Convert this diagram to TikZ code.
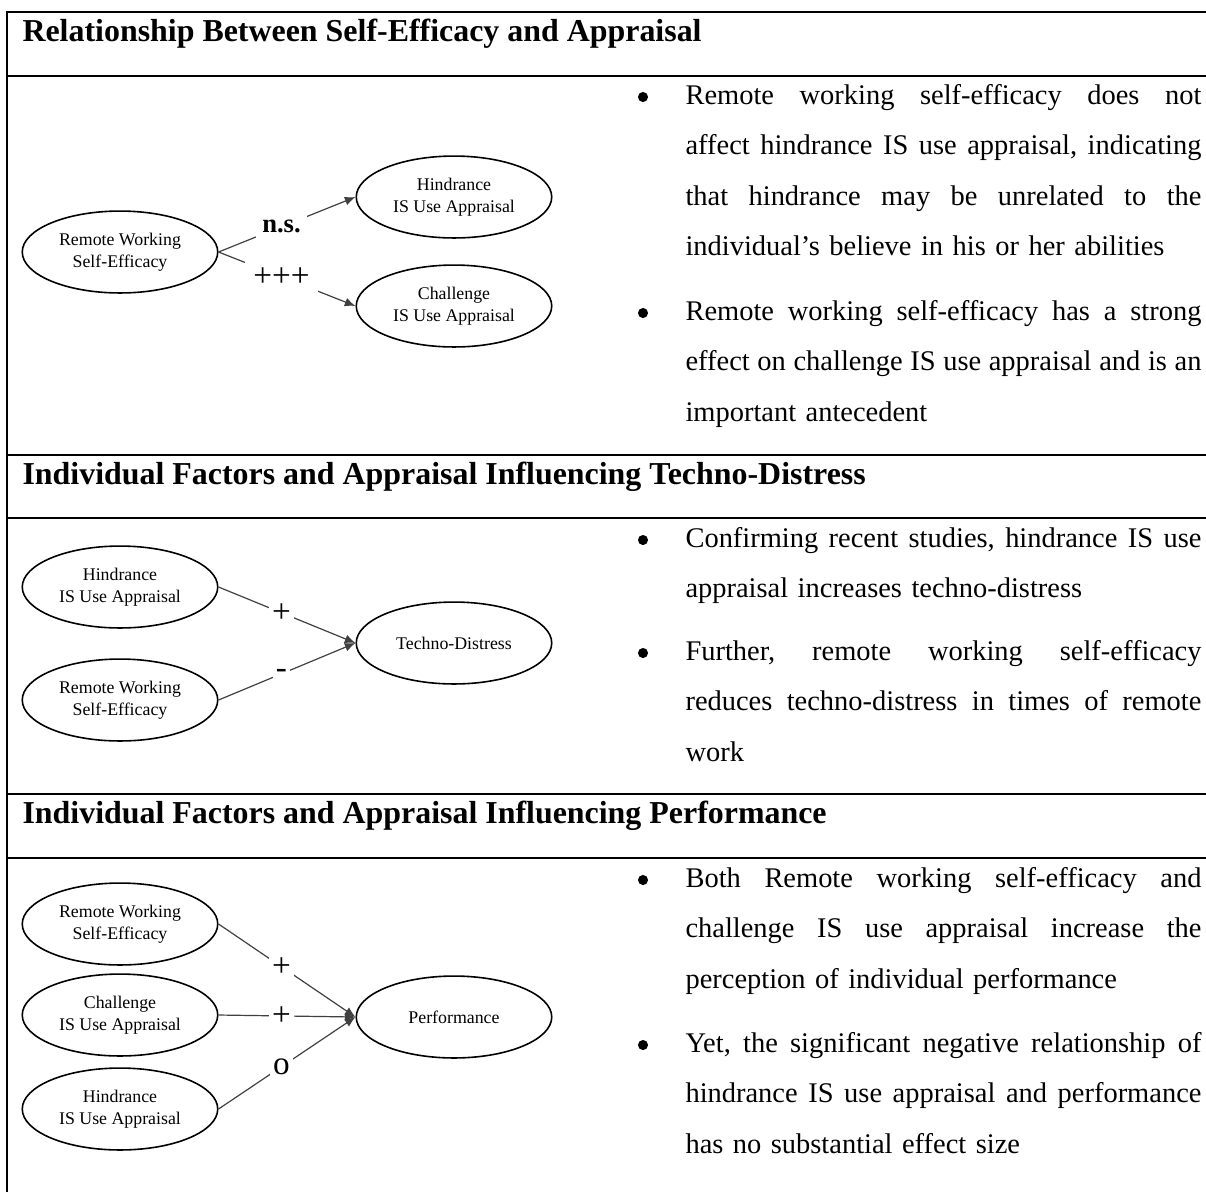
\documentclass[tikz,border=0pt]{standalone}
\usepackage{fontspec}
\setmainfont{Liberation Serif}
\usepackage{tikz}
\usetikzlibrary{arrows.meta, shapes.geometric}

\def\jline#1{\leavevmode\hbox to 194pt{\jloop#1 \jend}}
\def\jloop#1 #2\jend{#1\ifx\relax#2\relax\else\hfill\jloop#2\jend\fi}

\begin{document}
\begin{tikzpicture}[x=0.376pt, y=-0.376pt,
  construct/.style={draw, ellipse, line width=0.6pt, minimum width=73.5pt, minimum height=30.8pt,
    inner sep=0pt, align=center, font=\fontsize{6.7}{8.2}\selectfont},
  link/.style={draw=black!75, line width=0.45pt, -{Latex[length=4pt,width=3.3pt]}},
  effect/.style={fill=white, inner sep=1.2pt, pos=0.46, font=\fontsize{12.5}{14}\selectfont},
  hdr/.style={anchor=base west, inner sep=0pt, font=\fontsize{12}{14}\selectfont\bfseries},
  itemtxt/.style={anchor=base west, inner sep=0pt, text width=194pt, align=left,
    font=\fontsize{10.7}{19}\selectfont},
  itemdot/.style={circle, fill=black, inner sep=0pt, minimum size=3.8pt},
  tline/.style={line width=1.1pt}]
  \useasboundingbox (0,0) rectangle (1206,1192);

  \draw[tline] (7,1192) -- (7,12) -- (1206,12);
  \draw[tline] (7,76) -- (1206,76);
  \draw[tline] (7,455) -- (1206,455);
  \draw[tline] (7,518) -- (1206,518);
  \draw[tline] (7,794) -- (1206,794);
  \draw[tline] (7,858) -- (1206,858);

  \node[hdr] (h1) at (22,41) {Relationship Between Self-Efficacy and Appraisal};
  \node[hdr] (h2) at (22,484) {Individual Factors and Appraisal Influencing Techno-Distress};
  \node[hdr] (h3) at (22,823) {Individual Factors and Appraisal Influencing Performance};

  % self-efficacy and appraisal
  \node[construct] (rw1) at (120,252) {Remote Working\\Self-Efficacy};
  \node[construct] (hi1) at (454,197) {Hindrance\\IS Use Appraisal};
  \node[construct] (ch1) at (454,306) {Challenge\\IS Use Appraisal};
  \draw[link] (rw1.east) -- node[effect, inner sep=2.5pt, font=\fontsize{10}{12}\selectfont\bfseries]{n.s.} (hi1.west);
  \draw[link] (rw1.east) -- node[effect, inner sep=3pt]{+++} (ch1.west);

  % techno-distress
  \node[construct] (hi2) at (120,587) {Hindrance\\IS Use Appraisal};
  \node[construct] (rw2) at (120,700) {Remote Working\\Self-Efficacy};
  \node[construct] (td2) at (454,643) {Techno-Distress};
  \draw[link] (hi2.east) -- node[effect]{+} (td2.west);
  \draw[link] (rw2.east) -- node[effect]{-} (td2.west);

  % performance
  \node[construct] (rw3) at (120,924) {Remote Working\\Self-Efficacy};
  \node[construct] (ch3) at (120,1015) {Challenge\\IS Use Appraisal};
  \node[construct] (hi3) at (120,1109) {Hindrance\\IS Use Appraisal};
  \node[construct] (pf3) at (454,1017) {Performance};
  \draw[link] (rw3.east) -- node[effect]{+} (pf3.west);
  \draw[link] (ch3.east) -- node[effect]{+} (pf3.west);
  \draw[link] (hi3.east) -- node[effect]{o} (pf3.west);

  \node[itemdot] (d11) at (643,97) {};
  \node[itemtxt] (t11) at (685,104) {\jline{Remote working self-efficacy does not}\\
    \jline{affect hindrance IS use appraisal, indicating}\\
    \jline{that hindrance may be unrelated to the}\\
    individual's believe in his or her abilities};
  \node[itemdot] (d12) at (643,313) {};
  \node[itemtxt] (t12) at (685,320) {\jline{Remote working self-efficacy has a strong}\\
    \jline{effect on challenge IS use appraisal and is an}\\
    important antecedent};

  \node[itemdot] (d21) at (643,540) {};
  \node[itemtxt] (t21) at (685,547) {\jline{Confirming recent studies, hindrance IS use}\\
    appraisal increases techno-distress};
  \node[itemdot] (d22) at (643,653) {};
  \node[itemtxt] (t22) at (685,660) {\jline{Further, remote working self-efficacy}\\
    \jline{reduces techno-distress in times of remote}\\
    work};

  \node[itemdot] (d31) at (643,880) {};
  \node[itemtxt] (t31) at (685,887) {\jline{Both Remote working self-efficacy and}\\
    \jline{challenge IS use appraisal increase the}\\
    perception of individual performance};
  \node[itemdot] (d32) at (643,1045) {};
  \node[itemtxt] (t32) at (685,1052) {\jline{Yet, the significant negative relationship of}\\
    \jline{hindrance IS use appraisal and performance}\\
    has no substantial effect size};
\end{tikzpicture}
\end{document}
